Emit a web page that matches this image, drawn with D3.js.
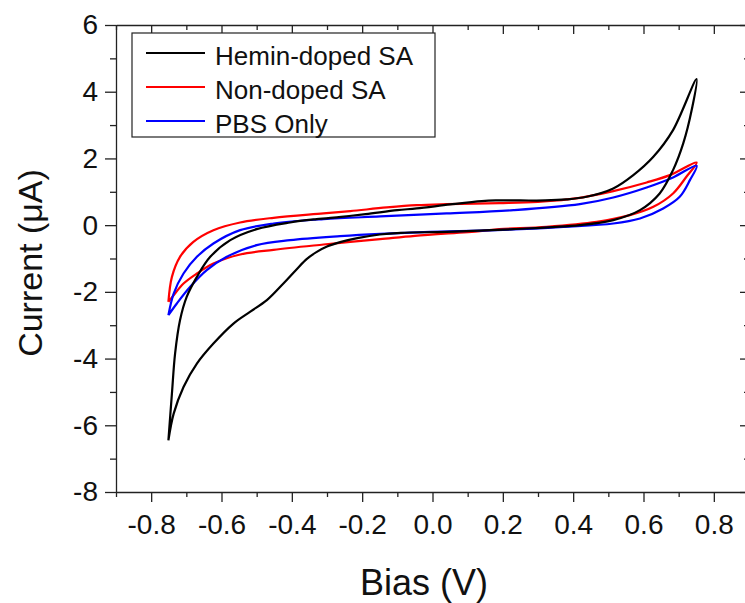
<!DOCTYPE html>
<html>
<head>
<meta charset="utf-8">
<script src="https://cdn.jsdelivr.net/npm/d3@7"></script>
<style>
  html, body { margin: 0; padding: 0; background: #fff; }
  svg { display: block; }
  text { font-family: "Liberation Sans", Arial, sans-serif; fill: #111; }
</style>
</head>
<body>
<svg id="chart" width="745" height="603"></svg>
<script>
// ---- data ----
const seriesNames = ["Hemin-doped SA", "Non-doped SA", "PBS Only"];
const seriesColors = ["#000000", "#ff0000", "#0000ff"];

// closed CV loops: [bias (V), current (uA)]
const heminDoped = [
  [-0.751,-6.45],[-0.741,-5.05],[-0.732,-3.85],[-0.718,-2.85],[-0.699,-2.15],[-0.670,-1.55],
  [-0.632,-0.95],[-0.575,-0.45],[-0.500,-0.12],[-0.405,0.08],[-0.330,0.18],[-0.260,0.25],
  [-0.190,0.33],[-0.100,0.45],[-0.045,0.50],[0.050,0.62],[0.140,0.72],[0.180,0.74],
  [0.250,0.74],[0.320,0.74],[0.380,0.77],[0.438,0.85],[0.514,1.10],[0.571,1.50],
  [0.628,2.05],[0.684,2.85],[0.751,4.38],
  [0.737,3.45],[0.713,2.45],[0.684,1.65],[0.646,0.95],[0.590,0.45],[0.514,0.15],
  [0.419,0.00],[0.230,-0.12],[0.040,-0.20],[-0.090,-0.23],[-0.150,-0.28],[-0.210,-0.38],
  [-0.260,-0.50],[-0.300,-0.64],[-0.329,-0.80],[-0.358,-1.02],[-0.386,-1.32],[-0.424,-1.75],
  [-0.471,-2.25],[-0.519,-2.60],[-0.566,-2.95],[-0.623,-3.55],[-0.670,-4.15],[-0.708,-4.85],
  [-0.736,-5.65],[-0.751,-6.45]
];
const nonDoped = [
  [-0.751,-2.30],[-0.741,-1.55],[-0.718,-0.95],[-0.680,-0.50],[-0.623,-0.15],[-0.547,0.08],
  [-0.452,0.22],[-0.310,0.35],[-0.234,0.42],[-0.130,0.53],[-0.045,0.60],[0.040,0.63],
  [0.190,0.66],[0.300,0.70],[0.419,0.82],[0.514,1.02],[0.609,1.28],[0.675,1.50],[0.751,1.88],
  [0.722,1.45],[0.684,0.95],[0.628,0.55],[0.561,0.30],[0.467,0.10],[0.324,-0.05],
  [0.190,-0.12],[0.135,-0.18],[-0.050,-0.32],[-0.149,-0.42],[-0.234,-0.50],[-0.310,-0.58],
  [-0.452,-0.74],[-0.547,-0.88],[-0.623,-1.15],[-0.670,-1.45],[-0.708,-1.75],[-0.736,-2.10],
  [-0.751,-2.30]
];
const pbsOnly = [
  [-0.751,-2.70],[-0.736,-2.05],[-0.708,-1.45],[-0.670,-0.95],[-0.623,-0.55],[-0.547,-0.15],
  [-0.452,0.05],[-0.310,0.18],[-0.149,0.26],[0.040,0.35],[0.230,0.45],[0.419,0.63],
  [0.514,0.83],[0.609,1.13],[0.684,1.43],[0.751,1.78],
  [0.732,1.35],[0.703,0.85],[0.656,0.50],[0.590,0.20],[0.514,0.05],[0.372,-0.05],
  [0.182,-0.15],[-0.007,-0.20],[-0.149,-0.26],[-0.263,-0.33],[-0.405,-0.45],[-0.500,-0.60],
  [-0.585,-0.95],[-0.642,-1.35],[-0.689,-1.85],[-0.727,-2.35],[-0.751,-2.70]
];
const seriesData = [heminDoped, nonDoped, pbsOnly];

const xMajorTicks = [-0.8,-0.6,-0.4,-0.2,0.0,0.2,0.4,0.6,0.8];
const xMinorTicks = [-0.9,-0.7,-0.5,-0.3,-0.1,0.1,0.3,0.5,0.7,0.9];
const yMajorTicks = [-8,-6,-4,-2,0,2,4,6];
const yMinorTicks = [-7,-5,-3,-1,1,3,5];
const xTitle = "Bias (V)";
const yTitle = "Current (μA)";

// ---- layout ----
const svg = d3.select("#chart");
const L = 116, R = 749, T = 25, B = 492;
const x = d3.scaleLinear().domain([-0.9, 0.9]).range([L, R]);
const y = d3.scaleLinear().domain([-8, 6]).range([B, T]);
const fmtX = d => d3.format(".1f")(d).replace("\u2212", "-");
const fmtY = d => d3.format("d")(d).replace("\u2212", "-");

const axisColor = "#222";
function styleAxis(g) {
  g.selectAll("path.domain").attr("stroke", axisColor).attr("stroke-width", 1.3);
  g.selectAll(".tick line").attr("stroke", axisColor).attr("stroke-width", 1.3);
}

// bottom
svg.append("g").attr("transform", `translate(0,${B})`)
  .call(d3.axisBottom(x).tickValues(xMajorTicks).tickSize(10).tickSizeOuter(0).tickFormat(fmtX))
  .call(styleAxis)
  .call(g => g.selectAll("text").attr("font-size", 28).attr("dy", "1.02em")
        .attr("font-family", "Liberation Sans, Arial, sans-serif").attr("fill", "#111"));
svg.append("g").attr("transform", `translate(0,${B})`)
  .call(d3.axisBottom(x).tickValues(xMinorTicks).tickSize(5).tickSizeOuter(0).tickFormat(""))
  .call(styleAxis).call(g => g.select("path.domain").remove());
// top (inward)
svg.append("g").attr("transform", `translate(0,${T})`)
  .call(d3.axisTop(x).tickValues(xMajorTicks).tickSize(-9).tickSizeOuter(0).tickFormat(""))
  .call(styleAxis);
svg.append("g").attr("transform", `translate(0,${T})`)
  .call(d3.axisTop(x).tickValues(xMinorTicks).tickSize(-5).tickSizeOuter(0).tickFormat(""))
  .call(styleAxis).call(g => g.select("path.domain").remove());
// left
svg.append("g").attr("transform", `translate(${L},0)`)
  .call(d3.axisLeft(y).tickValues(yMajorTicks).tickSize(11).tickSizeOuter(0).tickFormat(fmtY))
  .call(styleAxis)
  .call(g => g.selectAll("text").attr("font-size", 28).attr("x", -18)
        .attr("font-family", "Liberation Sans, Arial, sans-serif").attr("fill", "#111"));
svg.append("g").attr("transform", `translate(${L},0)`)
  .call(d3.axisLeft(y).tickValues(yMinorTicks).tickSize(6).tickSizeOuter(0).tickFormat(""))
  .call(styleAxis).call(g => g.select("path.domain").remove());
// right (inward)
svg.append("g").attr("transform", `translate(${R},0)`)
  .call(d3.axisRight(y).tickValues(yMajorTicks).tickSize(-9).tickSizeOuter(0).tickFormat(""))
  .call(styleAxis);
svg.append("g").attr("transform", `translate(${R},0)`)
  .call(d3.axisRight(y).tickValues(yMinorTicks).tickSize(-5).tickSizeOuter(0).tickFormat(""))
  .call(styleAxis).call(g => g.select("path.domain").remove());

// titles
svg.append("text").attr("x", 424).attr("y", 595).attr("text-anchor", "middle")
  .attr("font-size", 36).text(xTitle);
svg.append("text").attr("transform", `translate(42,263) rotate(-90)`)
  .attr("text-anchor", "middle").attr("font-size", 34).text(yTitle);

// curves
const line = d3.line().x(d => x(d[0])).y(d => y(d[1])).curve(d3.curveCatmullRom.alpha(0.5));
const drawOrder = [1, 2, 0];
drawOrder.forEach(i => {
  svg.append("path").datum(seriesData[i]).attr("d", line)
    .attr("fill", "none").attr("stroke", seriesColors[i]).attr("stroke-width", 2.2)
    .attr("stroke-linejoin", "round");
});

// legend
const lg = svg.append("g");
lg.append("rect").attr("x", 132).attr("y", 33).attr("width", 303).attr("height", 104)
  .attr("fill", "#fff").attr("stroke", axisColor).attr("stroke-width", 1.2);
seriesNames.forEach((name, i) => {
  const yy = 53 + i * 34;
  lg.append("line").attr("x1", 146).attr("x2", 205).attr("y1", yy).attr("y2", yy)
    .attr("stroke", seriesColors[i]).attr("stroke-width", 2.2);
  lg.append("text").attr("x", 215).attr("y", yy + 12).attr("font-size", 26).text(name);
});
</script>
</body>
</html>
